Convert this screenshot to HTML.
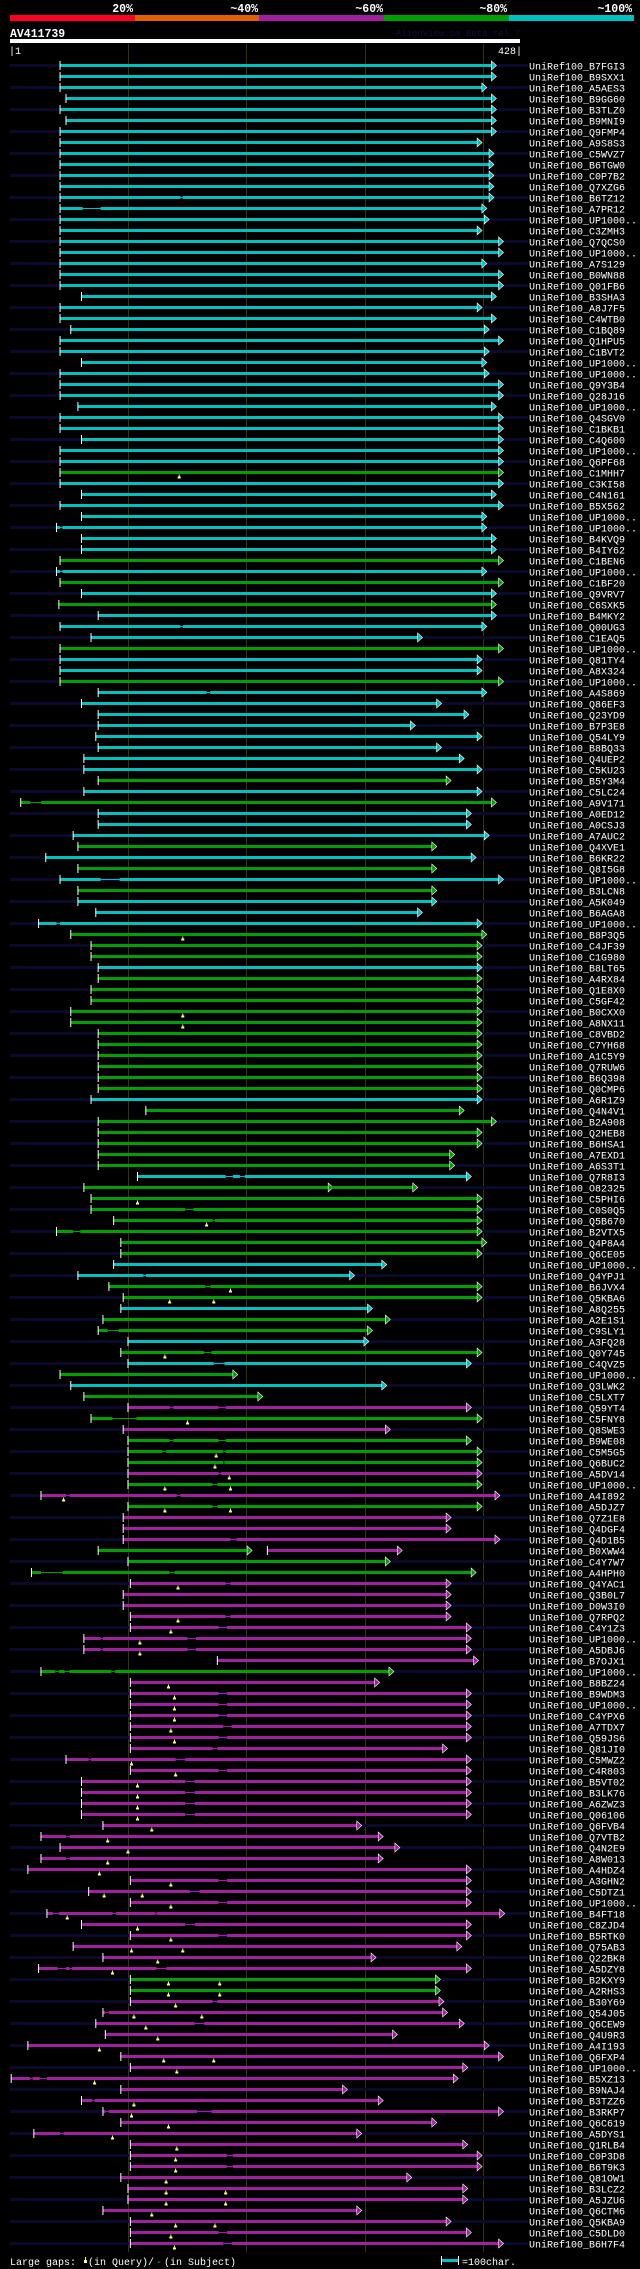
<!DOCTYPE html>
<html><head><meta charset="utf-8">
<style>
html,body{margin:0;padding:0;background:#000;}
svg{display:block;}
text{font-family:"Liberation Mono",monospace;}
</style></head>
<body>
<svg id="chart" width="640" height="2269" viewBox="0 0 640 2269" xmlns="http://www.w3.org/2000/svg">
<rect width="640" height="2269" fill="#000"/>
<g>
<rect x="10" y="15" width="125" height="6" fill="#ff0022"/>
<rect x="135" y="15" width="124" height="6" fill="#e06000"/>
<rect x="259" y="15" width="125" height="6" fill="#a020a0"/>
<rect x="384" y="15" width="125" height="6" fill="#00a000"/>
<rect x="509" y="15" width="125" height="6" fill="#00c0c0"/>
<g font-size="11.5" font-weight="bold" fill="#fff" text-anchor="end">
<text x="133" y="12">20%</text>
<text x="258" y="12">~40%</text>
<text x="383" y="12">~60%</text>
<text x="507" y="12">~80%</text>
<text x="632" y="12">~100%</text>
</g></g>
<text x="10" y="37" font-size="11.5" font-weight="bold" fill="#fff">AV411739</text>
<text x="520" y="36" font-size="9" fill="#101040" text-anchor="end">AlignView.pm Beta rel.7</text>
<rect x="10" y="39" width="510" height="4" fill="#fff"/>
<text x="9" y="54" font-size="10" fill="#fff">|1</text>
<text x="522" y="54" font-size="10" fill="#fff" text-anchor="end">428|</text>
<g id="grid"></g>
<g id="rows"></g>
<g font-size="10" fill="#fff">
<text x="10" y="2265">Large gaps:</text>
<rect x="85" y="2257" width="1" height="3" fill="#ffff80"/><rect x="84" y="2260" width="3" height="3" fill="#ffff80"/>
<text x="88" y="2265">(in Query)/</text>
<text x="156" y="2265" fill="#00c0c0">-</text>
<text x="164" y="2265">(in Subject)</text>
<rect x="441" y="2259" width="17" height="3" fill="#00c0c0"/>
<rect x="441" y="2256" width="1" height="9" fill="#fff"/><rect x="458" y="2256" width="1" height="9" fill="#fff"/>
<text x="462" y="2265">=100char.</text>
</g>
</svg>
<script>
const ids = ["B7FGI3","B9SXX1","A5AES3","B9GG60","B3TLZ0","B9MNI9","Q9FMP4","A9S8S3","C5WVZ7","B6TGW0","C0P7B2","Q7XZG6","B6TZ12","A7PR12","UP1000..","C3ZMH3","Q7QCS0","UP1000..","A7S129","B0WN88","Q01FB6","B3SHA3","A8J7F5","C4WTB0","C1BQ89","Q1HPU5","C1BVT2","UP1000..","UP1000..","Q9Y3B4","Q28J16","UP1000..","Q4SGV0","C1BKB1","C4Q600","UP1000..","Q6PF68","C1MHH7","C3KI58","C4N161","B5X562","UP1000..","UP1000..","B4KVQ9","B4IY62","C1BEN6","UP1000..","C1BF20","Q9VRV7","C6SXK5","B4MKY2","Q00UG3","C1EAQ5","UP1000..","Q81TY4","A8X324","UP1000..","A4S869","Q86EF3","Q23YD9","B7P3E8","Q54LY9","B8BQ33","Q4UEP2","C5KU23","B5Y3M4","C5LC24","A9V171","A0ED12","A0CSJ3","A7AUC2","Q4XVE1","B6KR22","Q8I5G8","UP1000..","B3LCN8","A5K049","B6AGA8","UP1000..","B8P3Q5","C4JF39","C1G980","B8LT65","A4RX84","Q1E8X0","C5GF42","B0CXX0","A8NX11","C8VBD2","C7YH68","A1C5Y9","Q7RUW6","B6Q398","Q0CMP6","A6R1Z9","Q4N4V1","B2A908","Q2HEB8","B6HSA1","A7EXD1","A6S3T1","Q7R8I3","O82325","C5PHI6","C0S0Q5","Q5B670","B2VTX5","Q4P8A4","Q6CE05","UP1000..","Q4YPJ1","B6JVX4","Q5KBA6","A8Q255","A2E1S1","C9SLY1","A3FQ28","Q0Y745","C4QVZ5","UP1000..","Q3LWK2","C5LXT7","Q59YT4","C5FNY8","Q8SWE3","B9WE08","C5M5G5","Q6BUC2","A5DV14","UP1000..","A4I892","A5DJZ7","Q7Z1E8","Q4DGF4","Q4D1B5","B0XWW4","C4Y7W7","A4HPH0","Q4YAC1","Q3B0L7","D0W3I0","Q7RPQ2","C4Y1Z3","UP1000..","A5DBJ6","B7OJX1","UP1000..","B8BZ24","B9WDM3","UP1000..","C4YPX6","A7TDX7","Q59JS6","Q81JI0","C5MWZ2","C4R803","B5VT02","B3LK76","A6ZWZ3","Q06106","Q6FVB4","Q7VTB2","Q4N2E9","A8W013","A4HDZ4","A3GHN2","C5DTZ1","UP1000..","B4FT18","C8ZJD4","B5RTK0","Q75AB3","Q22BK8","A5DZY8","B2KXY9","A2RHS3","B30Y69","Q54J05","Q6CEW9","Q4U9R3","A4I193","Q6FXP4","UP1000..","B5XZ13","B9NAJ4","B3TZZ6","B3RKP7","Q6C619","A5DYS1","Q1RLB4","C0P3D8","B6T9K3","Q81OW1","B3LCZ2","A5JZU6","Q6CTM6","Q5KBA9","C5DLD0","B6H7F4"];
const starts = [42,42,42,47,42,47,42,42,42,42,42,42,42,42,42,42,42,42,42,42,42,60,42,42,51,42,42,60,42,42,42,57,42,42,60,42,42,42,42,60,42,60,39,60,60,42,39,42,60,41,
74,42,68,42,42,42,42,74,60,74,74,72,74,62,62,74,62,9,74,74,53,57,30,57,42,57,57,72,24,51,68,68,74,74,68,68,51,51,74,74,74,74,74,74,68,114,74,74,74,74,
74,107,62,68,68,87,39,93,93,87,57,83,95,93,78,74,99,93,99,42,51,62,99,68,95,99,99,99,99,99,26,99,95,95,95,74,99,18,101,95,95,101,101,62,62,174,26,101,101,101,
101,101,101,101,47,101,60,60,60,60,78,26,42,26,15,101,66,101,31,60,101,53,78,24,101,101,101,78,72,80,15,93,101,1,93,60,78,93,20,101,101,101,93,99,99,78,101,101,101];
const ends = [404,404,396,404,404,404,404,392,402,402,402,402,402,396,398,392,410,410,396,410,410,404,392,404,398,410,398,396,398,410,410,404,410,410,410,410,410,410,410,404,410,396,396,404,404,410,396,410,404,404,
404,396,342,410,392,392,410,396,358,381,336,392,358,377,392,366,392,404,383,383,398,354,387,354,410,354,354,342,392,396,392,392,392,392,392,392,392,392,392,392,392,392,392,392,392,377,404,392,392,369,
369,383,267,392,392,392,392,396,392,312,285,392,392,300,315,300,297,392,383,187,312,208,383,392,315,383,392,392,392,392,407,392,366,366,407,199,315,387,366,366,366,366,383,383,383,389,318,306,383,383,
383,383,383,363,383,383,383,383,383,383,291,309,323,309,383,383,383,383,411,383,383,375,303,383,357,357,360,363,377,321,398,410,380,372,279,309,410,354,291,380,392,392,333,380,380,291,366,383,410];
const colors = "cccccccccccccccccccccccccccccccccccccgcccccccgcgcg" +
"cccgccgccccccccgcgcccgcgcgcccgggcgggggggggggcgggg" + "g" +
"gcgggggggccggcggcgcgcgmgmgggmgmgmmmgggmmmmmmmmgmmm" +
"mmmmmmmmmmmmmmmmmmmmmmmmggmmmmmmmmmmmmmmmmmmmmmmm";
const gaps = {13:[[143,145]],14:[[61,76]],43:[[42,44]],47:[[42,44]],52:[[143,145]],58:[[165,168]],68:[[17,26]],75:[[76,92]],79:[[39,42]],
102:[[181,187],[193,197]],105:[[147,154]],106:[[170,172]],107:[[53,59]],111:[[112,114]],112:[[164,168]],116:[[82,91]],118:[[163,169]],119:[[171,180]],
123:[[134,137],[175,181]],124:[[86,106]],126:[[134,137],[175,181]],127:[[128,131],[179,181]],128:[[179,180]],129:[[175,177]],130:[[170,174]],131:[[47,50],[140,143]],
132:[[170,174]],135:[[185,190]],138:[[26,44],[134,138]],139:[[181,185]],142:[[181,185]],143:[[175,182]],144:[[76,78],[149,156]],145:[[76,78],[149,156]],
147:[[38,41],[46,50],[85,88]],149:[[175,182]],150:[[175,182]],151:[[175,182]],152:[[179,186]],153:[[175,182]],154:[[170,174]],155:[[66,68],[139,147]],156:[[175,182]],
157:[[147,155]],158:[[147,155]],159:[[147,155]],160:[[147,155]],162:[[47,50]],164:[[47,50]],166:[[175,182]],167:[[151,159]],168:[[175,182]],169:[[36,41],[86,89],[122,123]],
170:[[147,155]],171:[[175,182]],174:[[40,47],[50,52],[123,131]],177:[[170,174]],178:[[80,83]],179:[[155,163]],184:[[17,19],[25,31]],186:[[69,71]],187:[[80,83],[157,169]],
189:[[42,45]],191:[[182,187]],192:[[182,187]],198:[[175,182]],199:[[179,186]]};
const marks = {38:[142],80:[145],87:[145],88:[145],104:[107],106:[165],112:[185],113:[134,171],118:[130],124:[149],127:[173],128:[172],129:[184],130:[130,185],131:[45],132:[130,185],
139:[141],142:[141],143:[135],144:[109],145:[109],148:[133],149:[138],150:[138],151:[138],152:[135],153:[138],155:[102],156:[139],157:[107],158:[107],159:[107],160:[107],
161:[119],162:[82],163:[99],164:[82],165:[75],166:[135],167:[79,111],168:[135],169:[48],170:[107],171:[135],172:[102,145],173:[124],174:[86],175:[133,176],176:[133,176],
177:[139],178:[104,161],179:[114],180:[124],181:[75],182:[129,171],183:[140],184:[71],186:[104],187:[102],188:[133],189:[86],190:[140],191:[139],192:[139],193:[131],
194:[131,181],195:[131,181],196:[119],197:[139,172],198:[135],199:[138]};
const extraRows = [103,136];
const extraStarts = [270,216];
const extraEnds = [338,325];
const extraColors = ["g","m"];
const gridX = [128.5,246.5,365.5,483.5];

const NS = "http://www.w3.org/2000/svg";
const palette = {c:"#00c0c0", g:"#00a000", m:"#a020a0"};
function x(r){ return 10 + r*1.1916; }
function rowY(i){ return 65.5 + i*11; }
function el(tag, attrs, parent){ const e=document.createElementNS(NS,tag); for(const k in attrs) e.setAttribute(k,attrs[k]); parent.appendChild(e); return e; }

const grid = document.getElementById('grid');
gridX.forEach(gx=>{
  const l = el('rect',{x:gx-0.5,y:44,width:1,height:2208,fill:'#33331a'},grid);
  
  
});

const rows = document.getElementById('rows');
function drawHit(g, s, e, col, cy, gp, withTick){
  const fill = palette[col];
  let segs = [[s,e]];
  (gp||[]).forEach(([a,b])=>{
    const out=[]; segs.forEach(([p,q])=>{ if(b<=p||a>=q){out.push([p,q]);} else { if(a>p) out.push([p,a]); if(b<q) out.push([b,q]); } }); segs=out;
    el('rect',{x:x(a),y:cy-0.5,width:x(b)-x(a),height:1,fill:fill},g);
  });
  segs.forEach(([p,q])=>{
    const b = el('rect',{x:x(p),y:cy-1.5,width:Math.max(0.5,x(q)-x(p)),height:3,fill:fill},g);
    
    
  });
  if(withTick) el('rect',{x:x(s)-0.5,y:cy-4.5,width:1,height:9,fill:'#fff'},g);
  const ex = x(e);
  const a = el('polygon',{points:`${ex},${cy-4.5} ${ex+5},${cy} ${ex},${cy+4.5}`,fill:fill,stroke:'#fff','stroke-width':0.6},g);
  
  
}
for(let i=0;i<ids.length;i++){
  const n = i+1, cy = rowY(i);
  const g = el('g',{},rows);
  
  
  if(i%2===0) el('rect',{x:10,y:cy-1.5,width:518,height:3,fill:'#0a0a2c'},g);
  drawHit(g, starts[i], ends[i], colors[i]||'m', cy, gaps[n], true);
  const k = extraRows.indexOf(n);
  if(k>=0) drawHit(g, extraStarts[k], extraEnds[k], extraColors[k], cy, null, extraColors[k]==='m');
  (marks[n]||[]).forEach(m=>{
    const mx = x(m);
    const mk = el('g',{},g);
    
    
    el('rect',{x:mx-0.5,y:cy+2,width:1,height:2,fill:'#ffff80'},mk);
    el('rect',{x:mx-1.5,y:cy+4,width:3,height:2,fill:'#ffff80'},mk);
  });
  const t = el('text',{x:529,y:cy+4,'font-size':10,fill:'#fff'},g);
  t.textContent = 'UniRef100_'+ids[i];
  
  
}
</script>
</body></html>
